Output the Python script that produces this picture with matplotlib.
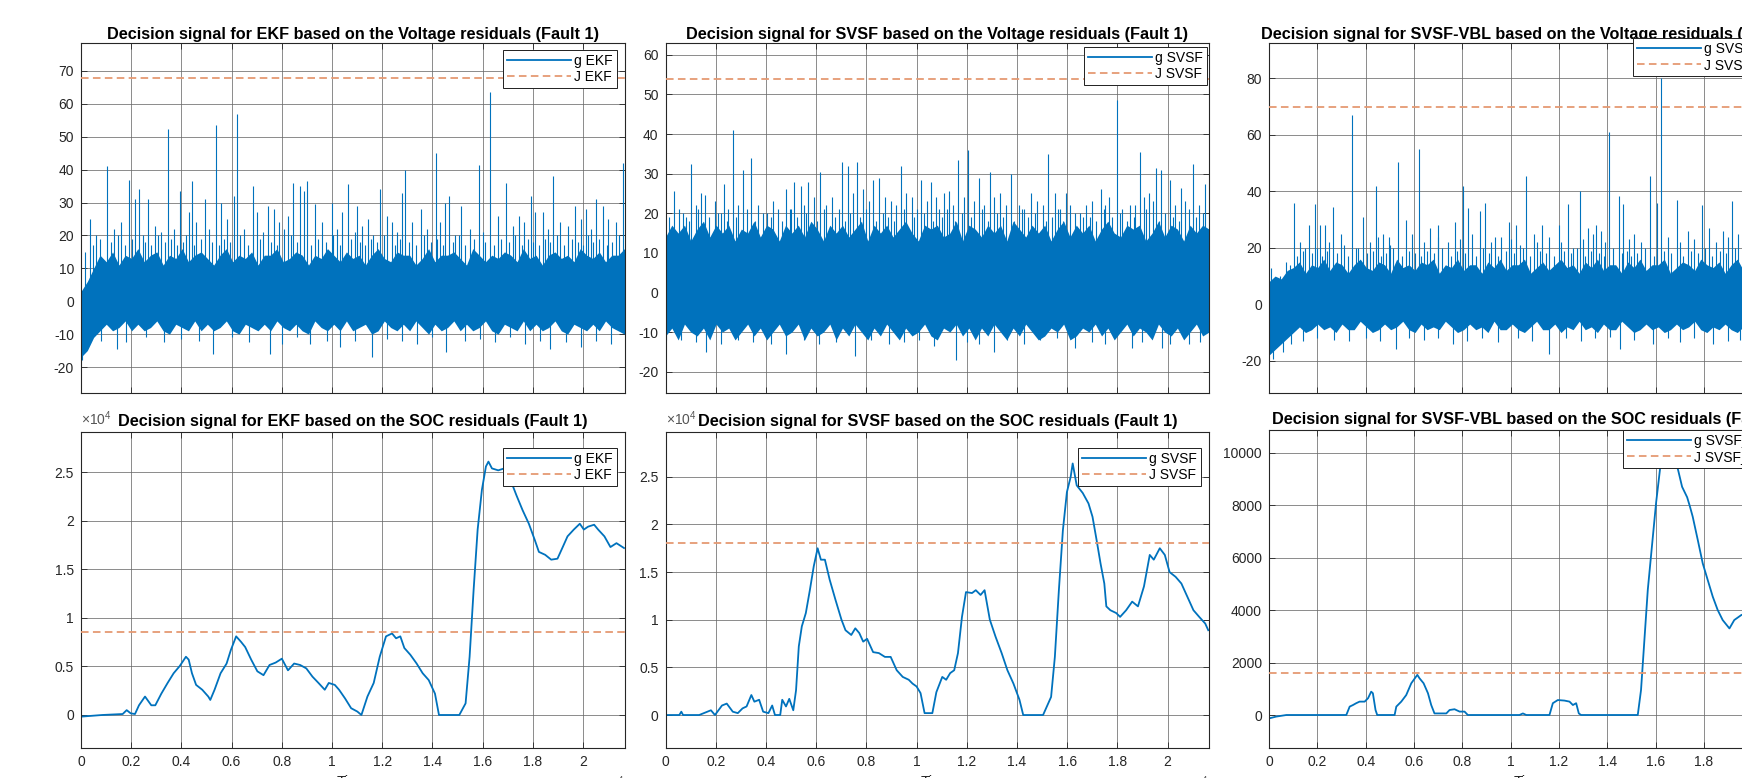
import matplotlib
matplotlib.use('Agg')
import matplotlib.pyplot as plt
import numpy as np
from matplotlib.lines import Line2D
from matplotlib.ticker import FixedLocator, FuncFormatter

plt.rcParams['font.family'] = ['Liberation Sans', 'DejaVu Sans']
plt.rcParams['mathtext.fontset'] = 'custom'
plt.rcParams['mathtext.rm'] = 'Liberation Sans'
plt.rcParams['mathtext.it'] = 'Liberation Sans:italic'
plt.rcParams['mathtext.bf'] = 'Liberation Sans:bold'
plt.rcParams['axes.unicode_minus'] = False

# ------------------------------------------------------------------ data
X_MAX = 21650
x_ticks = [0, 2000, 4000, 6000, 8000, 10000, 12000, 14000, 16000, 18000, 20000]

titles_volt = ["Decision signal for EKF based on the Voltage residuals (Fault 1)",
               "Decision signal for SVSF based on the Voltage residuals (Fault 1)",
               "Decision signal for SVSF-VBL based on the Voltage residuals (Fault 1)"]
titles_soc = ["Decision signal for EKF based on the SOC residuals (Fault 1)",
              "Decision signal for SVSF based on the SOC residuals (Fault 1)",
              "Decision signal for SVSF-VBL based on the SOC residuals (Fault 1)"]
g_labels = ["g EKF", "g SVSF", "g SVSF_VBL"]
j_labels = ["J EKF", "J SVSF", "J SVSF_VBL"]

# thresholds
J_volt = [68, 54, 70]
J_soc = [8500, 18000, 1600]

# ---- voltage decision signals:
#      ragged upper / lower envelope of the dense noise band on a regular time grid, plus individual spikes
edge_t = np.linspace(0, X_MAX, 87)

ekf_edge_hi = [3, 6, 10, 14, 12, 15, 11, 14, 13, 16,
               12, 14, 15, 11, 14, 13, 16, 12, 14, 15,
               13, 11, 14, 16, 12, 14, 13, 15, 11, 14,
               14, 16, 12, 13, 15, 14, 11, 14, 13, 16,
               14, 12, 15, 13, 14, 11, 14, 16, 13, 12,
               15, 14, 14, 11, 13, 16, 12, 14, 14, 15,
               13, 11, 16, 14, 12, 14, 13, 15, 14, 12,
               16, 13, 14, 11, 14, 15, 13, 14, 12, 16,
               14, 13, 15, 12, 14, 14, 16]
ekf_edge_lo = [-17, -15, -11, -9, -7, -9, -8, -6, -9, -7,
               -9, -8, -6, -9, -10, -7, -8, -9, -6, -9,
               -7, -9, -8, -6, -9, -10, -7, -8, -9, -7,
               -9, -6, -8, -9, -7, -9, -10, -6, -8, -9,
               -7, -9, -6, -9, -8, -7, -10, -9, -6, -8,
               -9, -7, -9, -6, -8, -10, -7, -9, -8, -6,
               -9, -7, -9, -8, -6, -9, -10, -7, -8, -9,
               -6, -9, -7, -9, -8, -6, -9, -10, -7, -8,
               -9, -7, -9, -6, -8, -9, -10]
ekf_up_t = [360, 1040, 1920, 2150, 2310, 2670, 2930, 3460, 3940, 4310, 4420, 4940, 5370, 5590,
            6110, 6210, 6860, 7430, 7680, 8240, 8460, 8730, 8890, 9010, 9330, 9980, 10630, 11010,
            11420, 11900, 12390, 12800, 12910, 13530, 14130, 14500, 14670, 15150, 15840, 16280,
            16940, 17430, 17920, 18410, 18810, 19680, 20110, 20520, 21010, 21580,
            600, 1300, 1600, 2450, 3200, 3700, 4600, 5100, 5800, 6500, 7000, 7250, 7900, 8100,
            9600, 10200, 10400, 10900, 11200, 11650, 12200, 12600, 13200, 13800, 14300, 14900,
            15500, 16000, 16600, 17200, 17650, 18100, 18600, 19100, 19400, 19900, 20300, 20800, 21300,
            150, 480, 760, 1180, 1480, 1760, 2050, 2560, 2800, 3060, 3330, 3580, 3820, 4080,
            4200, 4520, 4780, 5220, 5480, 5700, 5950, 6350, 6650, 7120, 7560, 7800, 8350, 8600,
            9150, 9450, 9750, 10050, 10330, 10750, 11100, 11300, 11550, 11780, 12050, 12500,
            12700, 13050, 13350, 13650, 13950, 14200, 14420, 14800, 15050, 15300, 15650, 16100,
            16450, 16750, 17050, 17300, 17550, 17800, 18000, 18250, 18500, 18700, 18950, 19250,
            19550, 19800, 20000, 20200, 20400, 20650, 20950, 21150, 21450]
ekf_up_v = [25, 41, 37, 31, 34, 31, 23, 52.5, 33.5, 27, 36.5, 31, 53.5, 30,
            32, 57, 35, 29, 28, 26, 36, 35, 33.5, 36.5, 29.5, 30, 35.5, 29,
            25, 34, 24, 33, 40, 28, 45, 30, 32, 29, 41.5, 63.5,
            36, 26, 32, 27, 38, 29, 28, 31, 25, 42,
            20, 22, 24, 20, 21, 22, 24, 22, 25, 22, 27, 21, 24, 22,
            24, 22, 27, 21, 23, 20, 26, 21, 24, 22, 24, 20,
            22, 21, 26, 23, 24, 27, 22, 24, 23, 25, 22, 29, 24,
            15, 17, 19, 18, 20, 17, 19, 18, 17, 20, 18, 19, 17, 18,
            20, 17, 19, 18, 17, 19, 18, 20, 17, 19, 18, 17, 20, 18,
            17, 19, 18, 20, 17, 19, 18, 17, 19, 18, 20, 17,
            19, 18, 17, 20, 18, 19, 17, 18, 20, 17, 19, 18,
            17, 19, 18, 20, 17, 19, 18, 17, 19, 18, 20, 17,
            19, 18, 17, 20, 18, 19, 17, 18, 20]
ekf_dn_t = [30, 1420, 5270, 7510, 9140, 11580, 14540, 18700,
            800, 1800, 2600, 3300, 4000, 4700, 6000, 6700, 8000, 8600, 9800, 10300, 10900,
            12200, 12800, 13400, 14000, 15300, 15900, 16500, 17100, 17700, 18300, 19300, 19900,
            20500, 21100]
ekf_dn_v = [-18, -14.5, -16, -16, -13, -17, -15.5, -14.5,
            -12, -12.5, -11, -12.5, -11.5, -12, -11, -12.5, -13, -11, -12, -14, -12,
            -11.5, -12, -13, -11, -12, -11.5, -12.5, -11, -13, -12, -12.5, -14,
            -12, -13]

svsf_edge_hi = [14, 17, 15, 17, 13, 16, 18, 14, 17, 15,
                17, 13, 16, 15, 18, 14, 17, 16, 13, 17,
                15, 17, 14, 18, 16, 13, 17, 15, 17, 14,
                16, 18, 13, 17, 15, 17, 14, 16, 18, 15,
                13, 17, 16, 17, 14, 15, 18, 13, 17, 16,
                14, 17, 15, 17, 13, 18, 16, 14, 17, 15,
                17, 13, 16, 18, 14, 17, 15, 17, 13, 16,
                18, 15, 14, 17, 16, 17, 13, 15, 18, 14,
                17, 16, 13, 17, 15, 17, 16]
svsf_edge_lo = [-11, -9, -12, -8, -10, -11, -9, -12, -8, -10,
                -9, -12, -10, -8, -11, -9, -12, -10, -8, -11,
                -10, -8, -12, -9, -11, -10, -8, -12, -9, -11,
                -8, -10, -12, -9, -11, -8, -10, -12, -9, -11,
                -10, -8, -11, -12, -9, -10, -8, -11, -9, -12,
                -9, -11, -8, -10, -12, -9, -11, -8, -10, -12,
                -11, -9, -10, -8, -12, -11, -9, -10, -8, -11,
                -9, -12, -10, -8, -11, -9, -10, -12, -8, -10,
                -11, -9, -12, -10, -8, -11, -10]
svsf_up_t = [350, 550, 1020, 1420, 1580, 1970, 2320, 2680, 3070, 3420, 4060, 4490, 4800, 5120,
             5390, 5690, 6170, 6620, 7040, 7250, 7640, 7880, 8270, 8510, 8980, 9400, 9800,
             10160, 10570, 10790, 11100, 11290, 11660, 12050, 12470, 12920, 13340, 13780,
             14100, 14570, 15230, 15510, 15940, 16770, 17360, 17670, 17990, 18510, 18900,
             19250, 19530, 19720, 20110, 20550, 21030, 21500,
             800, 1200, 2100, 2500, 2900, 3700, 4300, 5000, 5500, 5900, 6400, 6900, 7450,
             8100, 8750, 9200, 9600, 10000, 10400, 10900, 11450, 11900, 12300, 12700, 13100,
             13550, 14300, 14800, 15050, 15700, 16100, 16500, 17000, 17500, 18200, 18700,
             19050, 19400, 20300, 20700, 21250,
             150, 700, 950, 1300, 1750, 2200, 2450, 2800, 3250, 3550, 3900, 4200, 4650, 4950,
             5250, 5600, 6050, 6300, 6750, 7150, 7350, 7750, 8000, 8400, 8650, 8850, 9100,
             9500, 9900, 10300, 10650, 11000, 11200, 11550, 11800, 12150, 12600, 12850, 13200,
             13450, 13900, 14200, 14450, 14700, 15150, 15400, 15650, 15850, 16300, 16650,
             16900, 17150, 17450, 17800, 18100, 18400, 18650, 19150, 19650, 19900, 20200,
             20450, 20850, 21150, 21400]
svsf_up_v = [25.5, 21, 32.5, 25, 24.5, 23, 27.5, 41, 31, 34, 20, 21, 26, 28,
             27, 28, 30.5, 24, 33, 32, 33, 26, 28.5, 29, 23, 32, 24,
             28.5, 28, 24, 25, 25.5, 33.5, 36, 29, 30.5, 25, 30,
             22, 25, 35, 25, 25, 22, 26, 24, 48.5, 22, 35.5,
             25, 31.5, 31, 28.5, 26.5, 32.5, 27.5,
             19, 22, 20, 21, 22, 22, 23, 21, 22, 24, 22, 21, 25,
             23, 24, 22, 25, 21, 23, 21, 22, 24, 23, 22, 24,
             22, 21, 23, 22, 21, 22, 20, 23, 22, 21, 22,
             24, 23, 22, 23, 22,
             19, 20, 18, 21, 19, 20, 18, 19, 21, 18, 20, 19, 18, 21,
             19, 20, 18, 21, 19, 18, 20, 19, 21, 18, 20, 19, 18,
             21, 19, 20, 18, 19, 21, 18, 20, 19, 21, 18, 20,
             19, 18, 21, 19, 20, 18, 19, 21, 18, 20, 19,
             19, 18, 21, 19, 20, 18, 19, 21, 18, 20, 19,
             18, 21, 19, 20]
svsf_dn_t = [0, 1620, 4800, 7560, 11580, 13100, 16300, 18590, 19770, 20870,
             600, 1200, 2200, 2900, 3500, 4200, 5500, 6100, 6800, 8200, 8900, 9500, 10100,
             10700, 12000, 12500, 13600, 14300, 14900, 15600, 17000, 17500, 18000, 19000,
             20100, 21300]
svsf_dn_v = [-12, -15, -15.5, -16, -17, -15, -14, -14, -14, -13,
             -12, -12.5, -13, -12, -12.5, -13, -12, -13, -12.5, -12, -13, -12.5, -12,
             -13.5, -12.5, -13, -12, -13, -12, -11.5, -12.5, -13, -11, -12.5,
             -13, -12.5]

vbl_edge_hi = [8, 10, 9, 12, 13, 15, 11, 14, 13, 16,
               12, 15, 14, 11, 14, 16, 13, 12, 15, 14,
               11, 16, 13, 14, 12, 15, 14, 16, 11, 14,
               13, 16, 12, 14, 14, 11, 15, 13, 16, 12,
               14, 14, 16, 11, 13, 15, 12, 14, 16, 13,
               14, 11, 15, 13, 16, 12, 14, 14, 11, 15,
               13, 16, 12, 14, 14, 16, 11, 13, 15, 14,
               12, 16, 14, 13, 15, 11, 14, 16, 12, 14,
               15, 13, 14, 16, 12, 14, 15]
vbl_edge_lo = [-18, -16, -14, -12, -10, -8, -10, -9, -7, -9,
               -8, -10, -7, -9, -9, -6, -8, -10, -9, -7,
               -9, -8, -6, -9, -10, -7, -9, -8, -9, -6,
               -8, -10, -9, -7, -9, -8, -10, -6, -9, -9,
               -7, -9, -10, -8, -6, -9, -9, -7, -10, -8,
               -9, -6, -9, -8, -10, -7, -9, -9, -6, -8,
               -10, -9, -7, -9, -8, -10, -9, -7, -9, -8,
               -6, -9, -10, -8, -9, -7, -9, -10, -8, -9,
               -7, -9, -10, -8, -9, -9, -8]
vbl_up_t = [100, 440, 1020, 1270, 1660, 1890, 2100, 2300, 2650, 2990, 3450, 3890, 4410,
            4720, 4960, 5340, 5680, 6190, 6650, 6990, 7680, 8030, 8230, 8720, 8950, 9340,
            9930, 10230, 10620, 10950, 11310, 12000, 12370, 12880, 13200, 13540, 13750,
            14090, 14470, 14670, 15130, 15790, 16070, 16230, 16880, 17330, 17910, 18230,
            18780, 19150, 19900, 20400, 21000,
            700, 1500, 2500, 3100, 3700, 4200, 4500, 5000, 5900, 6400, 7000, 7400, 7900,
            8400, 9200, 9600, 10000, 10400, 11100, 11600, 12100, 12600, 13000, 13400, 13900,
            14900, 15400, 16500, 17000, 17600, 18500, 19000, 19400,
            850, 1150, 1400, 1780, 2000, 2200, 2400, 2820, 3250, 3600, 4050, 4300, 4620,
            4850, 5150, 5500, 5800, 6050, 6300, 6550, 6850, 7150, 7550, 7800, 8120, 8550,
            8850, 9100, 9480, 9800, 10130, 10500, 10800, 11200, 11450, 11800, 12200, 12500,
            12750, 13100, 13320, 13650, 13850, 14250, 14600, 14800, 15000, 15250, 15550,
            15950, 16350, 16650, 17150, 17450, 17750, 18050, 18350, 18650, 18900, 19300]
vbl_up_v = [13, 10, 36, 22, 28, 35.5, 28, 28, 34.5, 25, 67, 31, 42,
            25, 24, 50.5, 30, 55, 27, 28, 29, 42, 34, 33, 36, 24,
            29, 28, 45.5, 25, 28, 28, 35.5, 40, 27, 28, 26,
            61, 38.5, 35.5, 25, 45.5, 36, 80, 37, 26, 35, 27,
            26, 36.5, 28, 33, 30,
            15, 20, 22, 21, 20, 22, 24, 21, 25, 22, 24, 22, 23,
            25, 22, 24, 23, 21, 22, 24, 22, 20, 23, 25, 22,
            23, 22, 24, 22, 23, 22, 24, 25,
            14, 17, 19, 18, 20, 17, 19, 18, 17, 20, 18, 19, 17,
            18, 20, 17, 19, 18, 17, 19, 18, 20, 17, 19, 18, 17,
            20, 18, 17, 19, 18, 20, 17, 19, 18, 17, 19, 18,
            20, 17, 19, 18, 17, 20, 18, 19, 17, 18, 20,
            17, 19, 18, 17, 19, 18, 20, 17, 19, 18, 20]
vbl_dn_t = [170, 580, 5240, 7610, 11610, 14540, 15890, 18370,
            900, 1400, 2000, 2700, 3300, 4000, 4600, 5800, 6400, 7000, 8200, 8800, 9500,
            10300, 10900, 12300, 12900, 13500, 14100, 15100, 16500, 17000, 17600, 19000, 19500]
vbl_dn_v = [-19.5, -17, -16, -14, -17.5, -16, -14, -14,
            -14, -13, -12, -12.5, -13, -12, -13, -12, -12.5, -12, -13, -12, -13.5,
            -12, -13, -12, -13, -12, -11.5, -12.5, -12, -13.5, -12, -13, -12.5]

# ---- SOC decision signals
ekf_soc_t = [0, 845, 1660, 1820, 1980, 2150, 2310, 2550, 2800, 2960, 3200, 3450, 3690, 3935,
             4180, 4290, 4420, 4585, 4830, 5070, 5150, 5320, 5560, 5800, 5970, 6180, 6370,
             6540, 6780, 7025, 7270, 7510, 7755, 8000, 8245, 8490, 8730, 8975, 9220, 9460,
             9710, 9870, 10110, 10280, 10520, 10760, 11010, 11170, 11410, 11660, 11900,
             12150, 12390, 12550, 12720, 12880, 13120, 13370, 13610, 13850, 14100, 14260,
             15070, 15320, 15480, 15640, 15800, 15970, 16130, 16230, 16370, 16620, 16860,
             17110, 17350, 17590, 17840, 18080, 18240, 18490, 18730, 18980, 19190, 19380,
             19630, 19870, 20030, 20200, 20440, 20600, 20850, 21090, 21330, 21630]
ekf_soc_g = [-170, 0, 100, 500, 170, 100, 1000, 1900, 1000, 1000, 2200, 3300, 4300, 5050,
             6000, 5700, 4300, 3100, 2600, 1900, 1550, 2600, 4300, 5300, 6700, 8100, 7550,
             7000, 5700, 4500, 4100, 5150, 5400, 5800, 4600, 5300, 5150, 4800, 3950, 3300,
             2600, 3300, 3100, 2600, 1700, 700, 350, 0, 1900, 3300, 6000,
             8100, 8400, 7900, 8100, 6900, 6200, 5300, 4300, 3600, 2200, 0,
             0, 1200, 6000, 12900, 19100, 23200, 25600, 26100, 25400, 25200, 25400,
             24200, 22600, 21100, 19700, 18000, 16800, 16500, 16000, 16100, 17300, 18400,
             19100, 19700, 19100, 19400, 19600, 19100, 18400, 17300, 17700, 17200]

svsf_soc_t = [0, 550, 630, 700, 1340, 1810, 1970, 2250, 2440, 2680, 2880, 3070, 3230, 3420,
              3540, 3730, 3890, 4100, 4250, 4360, 4570, 4650, 4800, 4930, 5090, 5200, 5310,
              5430, 5590, 5750, 5905, 6060, 6190, 6350, 6540, 6770, 7010, 7170, 7400, 7560,
              7720, 7875, 8030, 8270, 8500, 8740, 8970, 9210, 9450, 9690, 9840, 10000, 10160,
              10320, 10630, 10790, 11025, 11180, 11340, 11500, 11650, 11810, 11970, 12210,
              12360, 12550, 12710, 12920, 13150, 13390, 13620, 13860, 14100, 14250, 15040,
              15360, 15510, 15670, 15830, 15990, 16140, 16220, 16380, 16620, 16850, 17010,
              17170, 17330, 17480, 17560, 17720, 17955, 18110, 18350, 18590, 18820, 19060,
              19290, 19450, 19690, 19890, 20080, 20320, 20550, 20790, 21030, 21260, 21500, 21620]
svsf_soc_g = [0, 0, 350, 0, 0, 500, 0, 1000, 1200, 350, 200, 700, 900, 2100,
              1400, 1600, 350, 200, 1000, 0, 0, 1600, 900, 1700, 500, 2600, 7200,
              9300, 10700, 13100, 15600, 17500, 16300, 16300, 14200, 12100, 10000, 8900, 8400, 9100,
              8600, 7700, 8000, 6600, 6500, 6100, 6100, 4700, 4000, 3700, 3300, 3000, 2300,
              200, 200, 2400, 4000, 3700, 4400, 4700, 6500, 10300, 12900, 12800,
              13100, 12600, 13100, 10000, 8200, 6500, 4700, 3300, 1600, 0, 0,
              1900, 6100, 13100, 19400, 23400, 25000, 26400, 24100, 23300, 22200, 20800,
              18400, 15900, 13800, 11400, 11000, 10700, 10300, 11000, 11900, 11400, 13500,
              16800, 16300, 17500, 16800, 15000, 14500, 13800, 12400, 11000, 10300, 9600, 8900]

vbl_soc_t = [0, 300, 720, 3200, 3340, 3475, 3610, 3750, 3960, 4100, 4230, 4300, 4410, 4480,
             5200, 5270, 5475, 5680, 5890, 6140, 6230, 6400, 6580, 6715, 6850, 7340, 7475,
             7680, 7890, 8095, 8230, 10370, 10510, 10650, 11610, 11750, 11955, 12230, 12440,
             12580, 12715, 12825, 12920, 15265, 15400, 15540, 15680, 15890, 16025, 16190,
             16450, 16700, 16935, 17100, 17310, 17430, 17540, 17750, 17955, 18160, 18370,
             18575, 18780, 19060, 19260, 19550, 19800]
vbl_soc_g = [-130, -60, 0, 0, 320, 380, 450, 510, 510, 640, 890, 830, 190, 0,
             0, 320, 510, 760, 1210, 1530, 1400, 1210, 830, 380, 60, 60, 190,
             220, 130, 130, 0, 0, 60, 0, 0, 450, 570, 550, 510,
             380, 450, 60, 0, 0, 950, 2860, 4770, 6800, 8100, 9400,
             10300, 10100, 9340, 8700, 8300, 7930, 7560, 6670, 5780, 5150, 4510,
             4000, 3620, 3300, 3620, 3810, 3900]

# ------------------------------------------------------------------ style
BLUE = '#0072BD'
ORANGE = '#E59A73'
GRID = '#6a6a6a'
DARK = '#262626'

W, H = 1742, 778
fig = plt.figure(figsize=(W / 100, H / 100), dpi=100)

def px_axes(x0, y0, x1, y1):
    return fig.add_axes([x0 / W, 1 - y1 / H, (x1 - x0) / W, (y1 - y0) / H])

# axes boxes in pixels (left, top, right, bottom)
boxes_top = [(81, 43, 624.5, 393), (665.5, 43, 1209, 393), (1269, 43, 1792, 393)]
boxes_bot = [(81, 432, 624.5, 748), (665.5, 432, 1209, 748), (1269, 430, 1792, 748)]
leg_top = [(503, 50), (1084, 47), (1633, 38)]
leg_bot = [(503, 448), (1078, 448), (1623, 430)]

ylim_top = [(-27.9, 78.5), (-25.4, 63), (-31.4, 92.5)]
yticks_top = [list(range(-20, 71, 10)), list(range(-20, 61, 10)), list(range(-20, 81, 20))]
ylim_bot = [(-3400, 29150), (-3460, 29700), (-1258, 10865)]
yticks_bot = [[0, 5000, 10000, 15000, 20000, 25000], [0, 5000, 10000, 15000, 20000, 25000],
              [0, 2000, 4000, 6000, 8000, 10000]]

# title font size fitted so the first title spans ~494 px
tmp = fig.text(0, 0, titles_volt[0], fontsize=10, fontweight='bold')
fig.canvas.draw()
TITLE_FS = 10 * 494 / tmp.get_window_extent().width
tmp.remove()

def style_axes(ax, bottom_row):
    ax.set_xlim(0, X_MAX)
    ax.xaxis.set_major_locator(FixedLocator(x_ticks))
    ax.xaxis.set_major_formatter(FuncFormatter(lambda v, p: '%g' % (v / 1e4)))
    ax.grid(True, color=GRID, linewidth=0.6, alpha=0.9)
    ax.set_axisbelow(True)
    ax.tick_params(direction='in', length=4, width=0.6, colors=DARK, labelsize=10,
                   top=True, right=True, labelbottom=bottom_row, pad=5)
    for s in ax.spines.values():
        s.set_color(DARK)
        s.set_linewidth(0.8)

def add_legend(ax, lx, ly, gl, jl):
    handles = [Line2D([], [], color=BLUE, lw=1.3), Line2D([], [], color=ORANGE, lw=1.3, ls=(0, (4.2, 2.4)))]
    leg = ax.legend(handles, [gl, jl], loc='upper left', bbox_to_anchor=(lx / W, 1 - ly / H),
                    bbox_transform=fig.transFigure, borderaxespad=0, fontsize=10,
                    handlelength=4.6, handletextpad=0.2, borderpad=0.3, labelspacing=0.15,
                    fancybox=False, framealpha=1, edgecolor='#202020')
    leg.get_frame().set_linewidth(0.7)
    leg.set_zorder(10)

volt = [(ekf_edge_hi, ekf_edge_lo, ekf_up_t, ekf_up_v, ekf_dn_t, ekf_dn_v),
        (svsf_edge_hi, svsf_edge_lo, svsf_up_t, svsf_up_v, svsf_dn_t, svsf_dn_v),
        (vbl_edge_hi, vbl_edge_lo, vbl_up_t, vbl_up_v, vbl_dn_t, vbl_dn_v)]
soc = [(ekf_soc_t, ekf_soc_g), (svsf_soc_t, svsf_soc_g), (vbl_soc_t, vbl_soc_g)]

for i in range(3):
    # ---------- voltage row
    ax = px_axes(*boxes_top[i])
    ehi, elo, ut, uv, dt, dv = volt[i]
    ax.fill_between(edge_t, elo, ehi, color=BLUE, linewidth=0, zorder=2)
    ax.vlines(ut, 0, uv, color=BLUE, linewidth=0.8, zorder=2)
    ax.vlines(dt, dv, 0, color=BLUE, linewidth=0.8, zorder=2)
    ax.axhline(J_volt[i], color=ORANGE, lw=1.3, ls=(0, (4.2, 2.4)), zorder=3)
    style_axes(ax, False)
    ax.set_ylim(*ylim_top[i])
    ax.yaxis.set_major_locator(FixedLocator(yticks_top[i]))
    ax.set_title(titles_volt[i], fontsize=TITLE_FS, fontweight='bold', pad=3)
    add_legend(ax, leg_top[i][0], leg_top[i][1], g_labels[i], j_labels[i])

    # ---------- SOC row
    ax = px_axes(*boxes_bot[i])
    st, sg = soc[i]
    ax.plot(st, sg, color=BLUE, lw=1.3, zorder=2)
    ax.axhline(J_soc[i], color=ORANGE, lw=1.3, ls=(0, (4.2, 2.4)), zorder=3)
    style_axes(ax, True)
    ax.set_ylim(*ylim_bot[i])
    ax.yaxis.set_major_locator(FixedLocator(yticks_bot[i]))
    if i < 2:
        ax.yaxis.set_major_formatter(FuncFormatter(lambda v, p: '%g' % (v / 1e4)))
        ax.annotate(r'$\times\mathregular{10^{4}}$', xy=(0, 1), xycoords='axes fraction',
                    xytext=(0, 3), textcoords='offset points', ha='left', va='bottom',
                    fontsize=10, color='#555555')
    ax.annotate(r'$\times\mathregular{10^{4}}$', xy=(1, 0), xycoords='axes fraction',
                xytext=(0, -19), textcoords='offset points', ha='right', va='top',
                fontsize=10, color='#555555')
    ax.set_title(titles_soc[i], fontsize=TITLE_FS, fontweight='bold', pad=4)
    ax.set_xlabel('Time', fontsize=11, labelpad=4.5, color=DARK)
    add_legend(ax, leg_bot[i][0], leg_bot[i][1], g_labels[i], j_labels[i])

fig.savefig('out.png', dpi=100, facecolor='white')
